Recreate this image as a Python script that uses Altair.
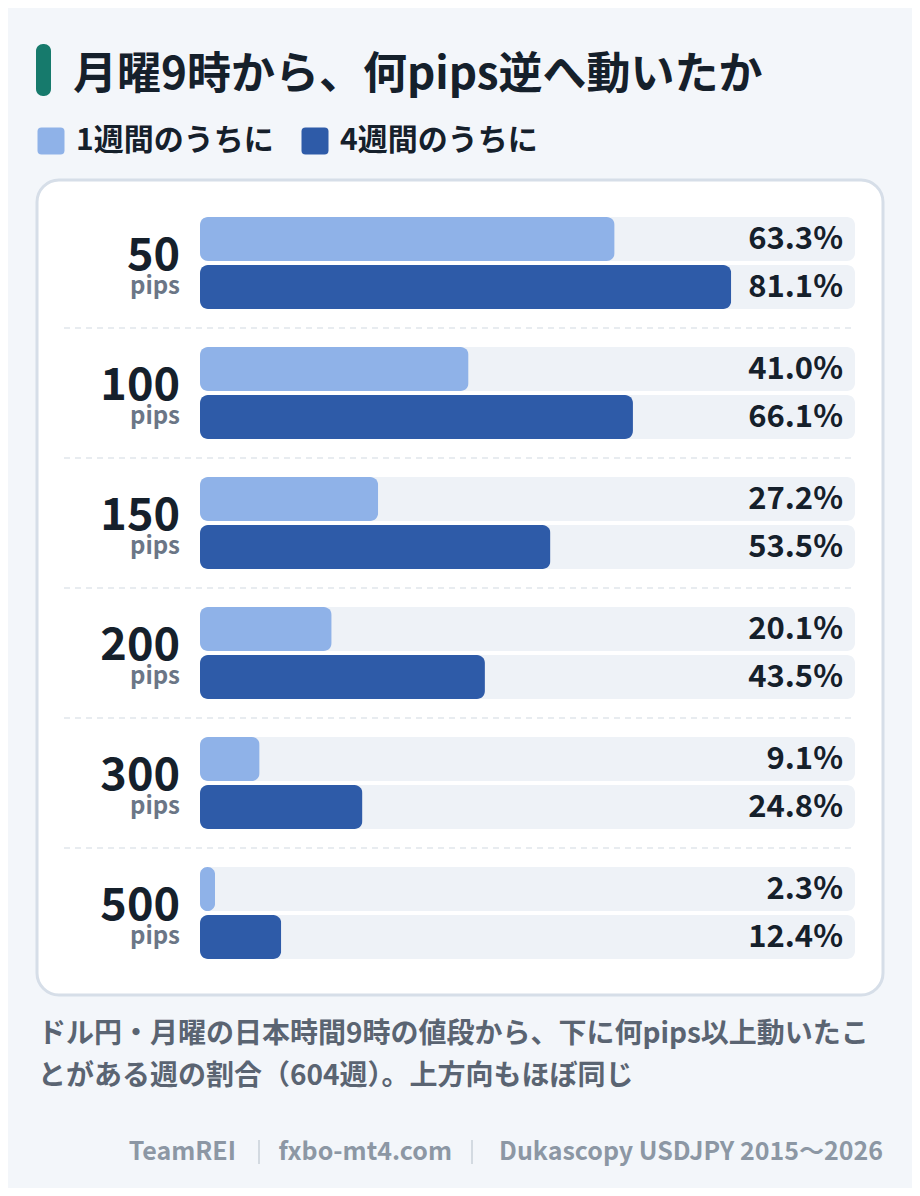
import altair as alt
import pandas as pd

# ---- data ----
pips_levels = ["50", "100", "150", "200", "300", "500"]
week1 = [63.3, 41.0, 27.2, 20.1, 9.1, 2.3]
week4 = [81.1, 66.1, 53.5, 43.5, 24.8, 12.4]
series_names = ["1週間のうちに", "4週間のうちに"]
series_colors = ["#8fb2e8", "#2e5ba8"]

title_text = "月曜9時から、何pips逆へ動いたか"
note_lines = ["ドル円・月曜の日本時間9時の値段から、下に何pips以上動いたこ",
              "とがある週の割合（604週）。上方向もほぼ同じ"]
credit_parts = ["TeamREI", "fxbo-mt4.com", "Dukascopy USDJPY 2015〜2026"]

rows = []
for p, a, b in zip(pips_levels, week1, week4):
    rows.append({"pips": p, "series": series_names[0], "value": a, "label": f"{a:.1f}%"})
    rows.append({"pips": p, "series": series_names[1], "value": b, "label": f"{b:.1f}%"})
df = pd.DataFrame(rows)
pdf = pd.DataFrame({"pips": pips_levels, "unit": ["pips"] * len(pips_levels)})
sep_df = pd.DataFrame({"pips": pips_levels[1:]})

FONT = "Noto Sans CJK JP"
DARK = "#15202b"

yscale = alt.Scale(type="band", domain=pips_levels, range=[209, 951],
                   paddingInner=0.2923, paddingOuter=0)
# same band layout shifted up by half a gap, for the dashed separators
yscale_sep = alt.Scale(type="band", domain=pips_levels, range=[190, 932],
                       paddingInner=0.2923, paddingOuter=0)
yoff_scale = alt.Scale(type="band", domain=series_names, paddingInner=0.0833, paddingOuter=0)
xscale = alt.Scale(domain=[0, 100], range=[192, 847])

one = alt.Data(values=[{}])

card = alt.Chart(one).mark_rect(
    fill="white", stroke="#d6dee8", strokeWidth=3, cornerRadius=22
).encode(x=alt.value(29), x2=alt.value(875), y=alt.value(172), y2=alt.value(987))

title_bar = alt.Chart(one).mark_rect(fill="#167a6c", cornerRadius=7).encode(
    x=alt.value(28), x2=alt.value(43), y=alt.value(36), y2=alt.value(88))

title = alt.Chart(one).mark_text(
    text=title_text, font=FONT, fontWeight="bold", fontSize=44, color=DARK,
    align="left", baseline="alphabetic"
).encode(x=alt.value(65), y=alt.value(81))

tracks = alt.Chart(df).mark_bar(color="#eef2f7", cornerRadius=8).encode(
    x=alt.value(192), x2=alt.value(847),
    y=alt.Y("pips:N", scale=yscale, axis=None, sort=pips_levels),
    yOffset=alt.YOffset("series:N", scale=yoff_scale, sort=series_names),
)

sym = "M-0.7,-1H0.7Q1,-1 1,-0.7V0.7Q1,1 0.7,1H-0.7Q-1,1 -1,0.7V-0.7Q-1,-1 -0.7,-1Z"

bars = alt.Chart(df).mark_bar(cornerRadius=8).encode(
    x=alt.X("value:Q", scale=xscale, axis=None),
    y=alt.Y("pips:N", scale=yscale, axis=None, sort=pips_levels),
    yOffset=alt.YOffset("series:N", scale=yoff_scale, sort=series_names),
    color=alt.Color("series:N", scale=alt.Scale(domain=series_names, range=series_colors),
                    legend=alt.Legend(
                        title=None, orient="none", legendX=28, legendY=118,
                        direction="horizontal", symbolType=sym, symbolSize=729,
                        symbolStrokeWidth=0, symbolOpacity=1,
                        labelFont=FONT, labelFontSize=30, labelFontWeight="bold",
                        labelColor=DARK, labelOffset=10, columnPadding=26, padding=0,
                        labelLimit=400)),
)

values = alt.Chart(df).mark_text(
    font=FONT, fontWeight="bold", fontSize=31, color=DARK, align="right", baseline="middle",
    dy=1
).encode(
    x=alt.value(835),
    y=alt.Y("pips:N", scale=yscale, axis=None, sort=pips_levels),
    yOffset=alt.YOffset("series:N", scale=yoff_scale, sort=series_names),
    text="label:N",
)

nums = alt.Chart(pdf).mark_text(
    font=FONT, fontWeight="bold", fontSize=45, color=DARK, align="right",
    baseline="alphabetic", dy=7
).encode(
    x=alt.value(172),
    y=alt.Y("pips:N", scale=yscale, axis=None, sort=pips_levels),
    text="pips:N",
)

units = alt.Chart(pdf).mark_text(
    font=FONT, fontWeight="bold", fontSize=24, color="#6b7686", align="right",
    baseline="alphabetic", dy=31
).encode(
    x=alt.value(172),
    y=alt.Y("pips:N", scale=yscale, axis=None, sort=pips_levels),
    text="unit:N",
)

seps = alt.Chart(sep_df).mark_rule(color="#e1e6ec", strokeWidth=1.5, strokeDash=[6, 5]).encode(
    x=alt.value(56), x2=alt.value(847),
    y=alt.Y("pips:N", scale=yscale_sep, axis=None, sort=pips_levels, bandPosition=0),
)

note_style = dict(font=FONT, fontWeight="bold", fontSize=28, color="#5a6472",
                  align="left", baseline="middle")
note1 = alt.Chart(one).mark_text(text=note_lines[0], **note_style).encode(
    x=alt.value(30), y=alt.value(1027))
note2 = alt.Chart(one).mark_text(text=note_lines[1], **note_style).encode(
    x=alt.value(30), y=alt.value(1069))

credit_style = dict(font=FONT, fontWeight="bold", fontSize=25, color="#8c97a4",
                    align="right", baseline="middle")
c1 = alt.Chart(one).mark_text(text=credit_parts[0], **credit_style).encode(
    x=alt.value(228), y=alt.value(1144))
c2 = alt.Chart(one).mark_text(text=credit_parts[1], **credit_style).encode(
    x=alt.value(444), y=alt.value(1144))
c3 = alt.Chart(one).mark_text(text=credit_parts[2], **credit_style).encode(
    x=alt.value(875), y=alt.value(1144))
s1 = alt.Chart(one).mark_rule(color="#c9d1d9", strokeWidth=1.5).encode(
    x=alt.value(251), y=alt.value(1132), y2=alt.value(1156))
s2 = alt.Chart(one).mark_rule(color="#c9d1d9", strokeWidth=1.5).encode(
    x=alt.value(464), y=alt.value(1132), y2=alt.value(1156))

chart = alt.layer(
    card, title_bar, title, tracks, bars, values, nums, units, seps,
    note1, note2, c1, c2, c3, s1, s2
).resolve_scale(y="independent").properties(
    width=904, height=1180, padding=0, background="#f3f6fa",
    autosize=alt.AutoSizeParams(type="none")
).configure_view(stroke=None)

chart.save("out.html", embed_options={"renderer": "svg", "actions": False})
